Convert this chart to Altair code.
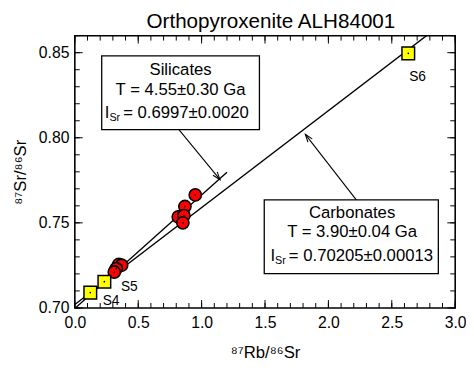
import altair as alt
import pandas as pd

FONT = "Liberation Sans"
W, H = 387, 277
XDOM = [0.0, 3.0]
YDOM = [0.70, 0.86]

# --- data ---
sil_x = [0.950, 0.868, 0.816, 0.860, 0.852, 0.347, 0.369, 0.326, 0.311]
sil_y = [0.7664, 0.7596, 0.7535, 0.7542, 0.7500, 0.7256, 0.7251, 0.7231, 0.7211]

carb_names = ["S4", "S5", "S6"]
carb_x = [0.122, 0.233, 2.630]
carb_y = [0.7090, 0.7154, 0.8496]
carb_lab_x = [0.286, 0.430, 2.703]
carb_lab_y = [0.7039, 0.7125, 0.8356]

# isochron endpoints
sil_line_x = [0.0, 1.20]
sil_line_y = [0.6997, 0.7798]
carb_line_x = [0.0, 2.80]
carb_line_y = [0.70205, 0.8615]

# tick values
x_major = [0.0, 0.5, 1.0, 1.5, 2.0, 2.5, 3.0]
x_minor = [round(i * 0.1, 1) for i in range(31)]
y_major = [0.70, 0.75, 0.80, 0.85]
y_minor = [round(0.70 + i * 0.01, 2) for i in range(17)]

# annotation boxes
box_x = [0.212, 1.494]
box_x2 = [1.456, 2.867]
box_y = [0.8481, 0.7635]
box_y2 = [0.8048, 0.7202]

head_lines = ["Silicates", "Carbonates"]
age_lines = ["T = 4.55±0.30 Ga", "T = 3.90±0.04 Ga"]
isr_values = ["= 0.6997±0.0020", "= 0.70205±0.00013"]
text_cx = [0.834, 2.187]
head_y = [0.8396, 0.7560]
age_y = [0.8281, 0.7444]
isr_y = [0.8143, 0.7306]
isr_x0 = [0.381, 1.688]

arrow_x = [0.821, 2.220]
arrow_y = [0.8048, 0.7635]
arrow_x2 = [1.145, 1.818]
arrow_y2 = [0.7754, 0.8020]
arrow_angle = [140.8, 322.2]

# --- tables ---
sil = pd.DataFrame({"x": sil_x, "y": sil_y})
carb = pd.DataFrame({"x": carb_x, "y": carb_y, "name": carb_names,
                     "lx": carb_lab_x, "ly": carb_lab_y})
lines = pd.DataFrame({
    "x": sil_line_x + carb_line_x,
    "y": sil_line_y + carb_line_y,
    "g": ["sil", "sil", "carb", "carb"],
})
boxes = pd.DataFrame({"x": box_x, "x2": box_x2, "y": box_y, "y2": box_y2})
ann = pd.DataFrame({
    "head": head_lines, "age": age_lines, "isr": isr_values,
    "cx": text_cx, "hy": head_y, "ay": age_y, "iy": isr_y, "x0": isr_x0,
    "I": ["I", "I"], "Sr": ["Sr", "Sr"],
})
arrows = pd.DataFrame({"x": arrow_x, "y": arrow_y, "x2": arrow_x2,
                       "y2": arrow_y2, "angle": arrow_angle})
xmaj = pd.DataFrame({"v": x_major})
xmin = pd.DataFrame({"v": x_minor})
ymaj = pd.DataFrame({"v": y_major})
ymin = pd.DataFrame({"v": y_minor})

xscale = alt.Scale(domain=XDOM, nice=False, zero=False)
yscale = alt.Scale(domain=YDOM, nice=False, zero=False)
axis_style = dict(ticks=False, domain=False, grid=False, labelFlush=False,
                  labelFont=FONT, labelFontSize=16, labelColor="black",
                  titleFont=FONT, titleFontSize=17, titleFontWeight="normal",
                  titleColor="black")
xaxis = alt.Axis(values=x_major, format=".1f", labelPadding=7,
                 title="⁸⁷Rb/⁸⁶Sr", titlePadding=14, **axis_style)
yaxis = alt.Axis(values=y_major, format=".2f", labelPadding=6,
                 title="⁸⁷Sr/⁸⁶Sr", titlePadding=9, **axis_style)


def X(f):
    return alt.X(f, type="quantitative", scale=xscale, axis=xaxis)


def Y(f):
    return alt.Y(f, type="quantitative", scale=yscale, axis=yaxis)


base_lines = alt.Chart(lines).mark_line(color="black", strokeWidth=1.4, clip=True).encode(
    x=X("x"), y=Y("y"), detail="g:N")

arrow_rules = alt.Chart(arrows).mark_rule(color="black", strokeWidth=1.1).encode(
    x=X("x"), y=Y("y"), x2="x2", y2="y2")
arrow_heads = alt.Chart(arrows).mark_point(
    shape="M -0.35 1 L 0 0 L 0.35 1", filled=False, color="black",
    strokeWidth=1.1, size=250, opacity=1).encode(
    x=X("x2"), y=Y("y2"), angle=alt.Angle("angle:Q", scale=None))

box_rects = alt.Chart(boxes).mark_rect(fill="white", stroke="black", strokeWidth=1.3).encode(
    x=X("x"), x2="x2", y=Y("y"), y2="y2")

tfont = dict(font=FONT, fontSize=17, color="black", baseline="middle")
t_head = alt.Chart(ann).mark_text(align="center", **tfont).encode(
    x=X("cx"), y=Y("hy"), text="head:N")
t_age = alt.Chart(ann).mark_text(align="center", **tfont).encode(
    x=X("cx"), y=Y("ay"), text="age:N")
t_isr = alt.Chart(ann).mark_text(align="left", **tfont).encode(
    x=X("x0"), y=Y("iy"), text="isr:N")
t_I = alt.Chart(ann).mark_text(align="right", dx=-14, **tfont).encode(
    x=X("x0"), y=Y("iy"), text="I:N")
t_Sr = alt.Chart(ann).mark_text(align="right", dx=-3, dy=5, font=FONT, fontSize=11,
                                color="black", baseline="middle").encode(
    x=X("x0"), y=Y("iy"), text="Sr:N")

sil_pts = alt.Chart(sil).mark_point(shape="circle", filled=True, fill="#ff0000",
                                    stroke="black", strokeWidth=1.6, size=155, opacity=1).encode(
    x=X("x"), y=Y("y"))
sil_dots = alt.Chart(sil).mark_point(shape="circle", filled=True, color="black",
                                     size=3, opacity=1).encode(x=X("x"), y=Y("y"))
carb_pts = alt.Chart(carb).mark_point(shape="square", filled=True, fill="#ffff00",
                                      stroke="black", strokeWidth=1.5, size=165, opacity=1).encode(
    x=X("x"), y=Y("y"))
carb_dots = alt.Chart(carb).mark_point(shape="circle", filled=True, color="black",
                                       size=3, opacity=1).encode(x=X("x"), y=Y("y"))
carb_lab = alt.Chart(carb).mark_text(font=FONT, fontSize=14, color="black",
                                     align="center", baseline="middle").encode(
    x=X("lx"), y=Y("ly"), text="name:N")

# inward ticks on all four sides
tk = dict(color="black", strokeWidth=1)
xb_maj = alt.Chart(xmaj).mark_rule(**tk).encode(x=X("v"), y=alt.value(H), y2=alt.value(H - 8))
xb_min = alt.Chart(xmin).mark_rule(**tk).encode(x=X("v"), y=alt.value(H), y2=alt.value(H - 5))
xt_maj = alt.Chart(xmaj).mark_rule(**tk).encode(x=X("v"), y=alt.value(0), y2=alt.value(8))
xt_min = alt.Chart(xmin).mark_rule(**tk).encode(x=X("v"), y=alt.value(0), y2=alt.value(5))
yl_maj = alt.Chart(ymaj).mark_rule(**tk).encode(y=Y("v"), x=alt.value(0), x2=alt.value(8))
yl_min = alt.Chart(ymin).mark_rule(**tk).encode(y=Y("v"), x=alt.value(0), x2=alt.value(5))
yr_maj = alt.Chart(ymaj).mark_rule(**tk).encode(y=Y("v"), x=alt.value(W), x2=alt.value(W - 8))
yr_min = alt.Chart(ymin).mark_rule(**tk).encode(y=Y("v"), x=alt.value(W), x2=alt.value(W - 5))

chart = alt.layer(
    xb_maj, xb_min, xt_maj, xt_min, yl_maj, yl_min, yr_maj, yr_min,
    base_lines, arrow_rules, arrow_heads, box_rects,
    t_head, t_age, t_isr, t_I, t_Sr,
    sil_pts, sil_dots, carb_pts, carb_dots, carb_lab,
).properties(
    width=W, height=H,
    title=alt.TitleParams("Orthopyroxenite ALH84001", font=FONT, fontSize=21,
                          fontWeight="normal", color="black", dx=6, offset=3),
    autosize=alt.AutoSizeParams(type="none"),
    padding={"left": 68, "top": 25, "right": 11, "bottom": 60},
    background="white",
).configure_view(
    stroke="black", strokeWidth=1.6
)

chart.save("out.html", embed_options={"renderer": "svg", "actions": False})
